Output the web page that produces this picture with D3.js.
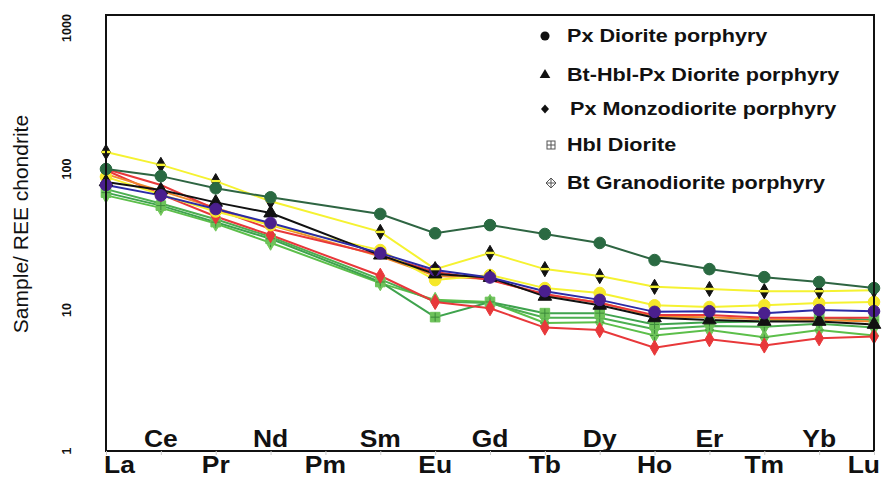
<!DOCTYPE html>
<html>
<head>
<meta charset="utf-8">
<script src="https://cdn.jsdelivr.net/npm/d3@7"></script>
<style>
  body { margin: 0; background: #fff; }
  svg { font-family: "Liberation Sans", Arial, sans-serif; }
</style>
</head>
<body>
<div class="box"></div>
<script>
const boxWidth = 883
const boxHeight = 478

// REE elements (Pm has no analysis)
const elements = ["La","Ce","Pr","Nd","Pm","Sm","Eu","Gd","Tb","Dy","Ho","Er","Tm","Yb","Lu"]
const yTicks = [1, 10, 100, 1000]

// chondrite normalised values, null = not analysed
const darkGreen  = [100, 89, 73, 63, null, 48, 35, 40, 34.6, 29.9, 22.6, 19.5, 17.1, 15.8, 14.3]
const yellowHigh = [132, 107, 82, 59, null, 35.8, 19.5, 25.4, 19.5, 17.4, 14.6, 14.1, 13.6, 13.6, 13.8]
const yellowLow  = [88, 66, 50, 40, null, 26.6, 16.3, 17.7, 14.3, 13.2, 10.8, 10.5, 10.8, 11.2, 11.4]
const blackTri   = [81, 71, 58, 48.7, null, 24.5, 18, 17, 12.5, 10.8, 8.8, 8.5, 8.3, 8.3, 7.9]
const blueCirc   = [77, 65, 52, 41.4, null, 25.3, 19.2, 17, 13.6, 11.8, 9.7, 9.8, 9.5, 10, 9.8]
const redHigh    = [100, 77, 52, 37.5, null, 24.5, 18.6, 16.3, 13, 11.2, 9.2, 9.2, 8.8, 8.8, 8.8]
const orange     = [92, 70, 53, 40, null, 24, 17.5, 16.5, 12.8, 11.3, 9, 8.9, 8.6, 8.5, 8.3]
const redLow     = [98, 66, 46, 34, null, 17.5, 11.4, 10.3, 7.5, 7.2, 5.4, 6.2, 5.6, 6.3, 6.5]
const greenHbl   = [68, 55, 42, 32, null, 15.8, 8.9, 11.4, 9.5, 9.5, 7.9, 8.2, 8.3, 8.8, 8.5]
const greenMid   = [72, 57, 44, 33, null, 16.5, 11.5, 11.2, 8.8, 8.8, 7.3, 7.7, 7.6, 8, 7.5]
const greenBt    = [65, 53, 41, 30, null, 15.5, 11.8, 11.4, 8.1, 8.2, 6.6, 7.2, 6.4, 7.2, 6.6]

const legendNames = ["Px Diorite porphyry", "Bt-Hbl-Px Diorite porphyry", "Px Monzodiorite porphyry", "Hbl Diorite", "Bt Granodiorite porphyry"]
const legendShapes = ["circle", "triangle", "diamond", "squarePlus", "diamondCross"]

const series = [
  { values: greenBt,    line: "#5cbf4a", marker: "diamondCross", fill: "#72c85a" },
  { values: greenMid,   line: "#4caf50", marker: "diamondCross", fill: "#6cc35a" },
  { values: greenHbl,   line: "#3fa34d", marker: "squarePlus",   fill: "#6dc25a" },
  { values: redLow,     line: "#e8383a", marker: "diamond",      fill: "#e8383a" },
  { values: orange,     line: "#f08a2c", marker: null,           fill: "#f08a2c" },
  { values: redHigh,    line: "#e8383a", marker: null,           fill: "#e8383a" },
  { values: yellowLow,  line: "#f5f231", marker: "circle",       fill: "#f5e82a" },
  { values: blackTri,   line: "#111111", marker: "triangle",     fill: "#111111" },
  { values: blueCirc,   line: "#2b2ba6", marker: "circle",       fill: "#4a1f8e" },
  { values: yellowHigh, line: "#f5f231", marker: "diamond",      fill: "#111111" },
  { values: darkGreen,  line: "#2e6542", marker: "circle",       fill: "#2a6a42" }
]

const plotLeft = 106, plotRight = 874, plotTop = 15, plotBottom = 451

const svg = d3.select('.box')
  .append('svg')
  .attr('width', boxWidth)
  .attr('height', boxHeight)

const x = d3.scalePoint().domain(elements).range([plotLeft, plotRight])
const y = d3.scaleLog().domain([1, 1000]).range([plotBottom, 28])

function shapePath(kind, s) {
  if (kind === "circle") return d3.symbol(d3.symbolCircle, s * s * 0.8)()
  if (kind === "triangle") return d3.symbol(d3.symbolTriangle, s * s * 0.6)()
  if (kind === "diamond" || kind === "diamondCross") return d3.symbol(d3.symbolDiamond, s * s * 0.5)()
  if (kind === "squarePlus") return d3.symbol(d3.symbolSquare, s * s * 0.7)()
  return null
}

// lines
const line = d3.line()
  .defined(d => d.v != null)
  .x(d => x(d.el))
  .y(d => y(d.v))

const lines = svg.append('g')
series.forEach(s => {
  const pts = elements.map((el, i) => ({ el: el, v: s.values[i] })).filter(d => d.v != null)
  lines.append('path')
    .datum(pts)
    .attr('fill', 'none')
    .attr('stroke', s.line)
    .attr('stroke-width', 2)
    .attr('d', line)
})

// markers
const marks = svg.append('g')
series.forEach(s => {
  if (!s.marker) return
  const pts = elements.map((el, i) => ({ el: el, v: s.values[i] })).filter(d => d.v != null)
  const g = marks.selectAll(null).data(pts).enter()
    .append('g')
    .attr('transform', d => `translate(${x(d.el)},${y(d.v)})`)
  g.append('path')
    .attr('d', shapePath(s.marker, 11.5))
    .attr('fill', s.fill)
    .attr('stroke', s.marker === "diamond" && s.fill === "#111111" ? "#111" : s.fill)
    .attr('stroke-width', 1)
  if (s.marker === "diamond" && s.fill === "#111111") {
    g.append('rect').attr('x', -4.5).attr('y', -1.2).attr('width', 9).attr('height', 2.4).attr('fill', '#f5f231')
  }
  if (s.marker === "squarePlus" || s.marker === "diamondCross") {
    g.append('path').attr('d', 'M-4.5,0H4.5M0,-4.5V4.5').attr('stroke', '#3c8a3a').attr('stroke-width', 1)
  }
})

// frame
svg.append('rect')
  .attr('x', plotLeft).attr('y', plotTop)
  .attr('width', plotRight - plotLeft).attr('height', plotBottom - plotTop)
  .attr('fill', 'none')
  .attr('stroke', '#111')
  .attr('stroke-width', 2)

// x axis: small ticks and staggered labels
const xAxis = svg.append('g')
  .attr('transform', `translate(0,${plotBottom})`)
  .call(d3.axisBottom(x).tickSize(4).tickFormat(''))
xAxis.select('.domain').remove()
xAxis.selectAll('.tick line').attr('stroke', '#ccc')

svg.append('g').selectAll('text')
  .data(elements).enter()
  .append('text')
  .attr('transform', (d, i) => {
    const tx = i === 0 ? x(d) - 2 : i === elements.length - 1 ? x(d) + 6 : x(d)
    const ty = i % 2 === 1 ? 447 : 473
    return `translate(${tx},${ty}) scale(1.15,1)`
  })
  .attr('text-anchor', (d, i) => i === 0 ? 'start' : i === elements.length - 1 ? 'end' : 'middle')
  .attr('font-size', 23)
  .attr('font-weight', 'bold')
  .attr('fill', '#111')
  .text(d => d)

// y axis labels (rotated)
svg.append('g').selectAll('text')
  .data(yTicks).enter()
  .append('text')
  .attr('transform', d => `translate(71,${y(d)}) rotate(-90)`)
  .attr('text-anchor', 'middle')
  .attr('font-size', 12.5)
  .attr('font-weight', 'bold')
  .attr('fill', '#111')
  .text(d => d)

svg.append('text')
  .attr('transform', `translate(28,224) rotate(-90)`)
  .attr('text-anchor', 'middle')
  .attr('font-size', 21)
  .attr('fill', '#111')
  .text('Sample/ REE chondrite')

// legend
const legend = svg.append('g')
legendNames.forEach((name, i) => {
  const ly = [36, 75, 109, 145, 183][i]
  const kind = legendShapes[i]
  const g = legend.append('g').attr('transform', `translate(${i < 3 ? 545 : 551},${ly})`)
  if (kind === "squarePlus") {
    g.append('rect').attr('x', -4).attr('y', -4).attr('width', 8).attr('height', 8)
      .attr('fill', 'none').attr('stroke', '#555').attr('stroke-width', 1)
    g.append('path').attr('d', 'M-4,0H4M0,-4V4').attr('stroke', '#555').attr('stroke-width', 1)
  } else if (kind === "diamondCross") {
    g.append('path').attr('d', 'M0,-5L5,0L0,5L-5,0Z')
      .attr('fill', 'none').attr('stroke', '#555').attr('stroke-width', 1)
    g.append('path').attr('d', 'M-5,0H5M0,-5V5').attr('stroke', '#555').attr('stroke-width', 1)
  } else if (kind === "diamond") {
    g.append('path').attr('d', 'M0,-4.5L4,0L0,4.5L-4,0Z').attr('fill', '#111')
  } else {
    g.append('path').attr('d', shapePath(kind, 9)).attr('fill', '#111')
  }
  legend.append('text')
    .attr('transform', `translate(${i === 2 ? 570 : 567},${ly + 6}) scale(1.2,1)`)
    .attr('font-size', 18)
    .attr('font-weight', 'bold')
    .attr('fill', '#111')
    .text(name)
})
</script>
</body>
</html>
